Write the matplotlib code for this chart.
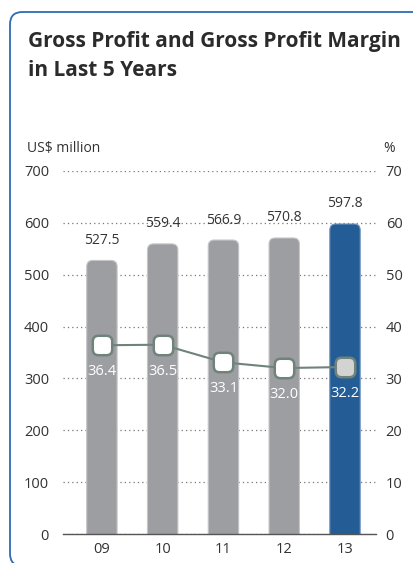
import matplotlib.pyplot as plt
import numpy as np
from matplotlib.patches import FancyBboxPatch, BoxStyle
from matplotlib.markers import MarkerStyle

plt.rcParams['font.family'] = ['Open Sans', 'DejaVu Sans']

years = ['09', '10', '11', '12', '13']
gross_profit = [527.5, 559.4, 566.9, 570.8, 597.8]
gp_margin = [36.4, 36.5, 33.1, 32.0, 32.2]

grey = '#9d9ea2'
blue = '#245d96'
line_c = '#6f837a'
txt = '#333333'

fig = plt.figure(figsize=(4.14, 5.63), dpi=100)

# blue frame, open on the right / bottom
frame = FancyBboxPatch((10 / 414, 1 - 12 / 563 - 0.984), 1.1, 0.984,
                       boxstyle='round,pad=0,rounding_size=0.03',
                       transform=fig.transFigure, fill=False,
                       edgecolor='#2d6bb3', linewidth=1.3, mutation_aspect=414 / 563)
fig.patches.append(frame)

fig.text(28 / 414, 1 - 47 / 563, 'Gross Profit and Gross Profit Margin',
         fontsize=15, fontweight='bold', color='#2b2b2b', ha='left', va='baseline')
fig.text(28 / 414, 1 - 76 / 563, 'in Last 5 Years',
         fontsize=15, fontweight='bold', color='#2b2b2b', ha='left', va='baseline')

ax = fig.add_axes([63 / 414, 1 - 534 / 563, 313 / 414, 363 / 563])
x = np.arange(len(years))
ax.set_xlim(-0.64, 4.51)
ax.set_ylim(0, 700)

# bars with rounded tops (bottom corners hidden under the axis)
px_x = 313 / 5.15
px_y = 363 / 700
for i, v in enumerate(gross_profit):
    c = blue if i == len(years) - 1 else grey
    ec = '#6f93bf' if i == len(years) - 1 else '#c4c5c8'
    bar = FancyBboxPatch((x[i] - 0.25, -30), 0.5, v + 30,
                         boxstyle='round,pad=0,rounding_size=0.1',
                         mutation_aspect=px_x / px_y,
                         facecolor=c, edgecolor=ec, linewidth=0.8, zorder=2)
    ax.add_patch(bar)
    ax.annotate(f'{v:.1f}', (x[i], v), xytext=(0, 9), textcoords='offset points',
                ha='center', va='bottom', fontsize=10, color=txt)

ax.set_yticks(range(0, 701, 100))
ax.set_xticks(x)
ax.set_xticklabels(years)
ax.yaxis.grid(True, linestyle=(0, (1, 2.5)), color='#777777', linewidth=0.9)
ax.set_axisbelow(True)
for s in ['top', 'right', 'left']:
    ax.spines[s].set_visible(False)
ax.spines['bottom'].set_color('#555555')
ax.spines['bottom'].set_linewidth(1)
ax.tick_params(axis='y', length=0, pad=10, labelsize=10.5, labelcolor=txt)
ax.tick_params(axis='x', length=0, pad=6, labelsize=10.5, labelcolor=txt)

ax2 = ax.twinx()
ax2.set_ylim(0, 70)
ax2.set_yticks(range(0, 71, 10))
for s in ax2.spines.values():
    s.set_visible(False)
ax2.tick_params(axis='y', length=0, pad=7, labelsize=10.5, labelcolor=txt)

# rounded square marker
rsq = BoxStyle.Round(pad=0, rounding_size=0.3)(-0.5, -0.5, 1, 1, 1)
mk = MarkerStyle(rsq)
ax2.plot(x, gp_margin, color=line_c, linewidth=1.5, zorder=3)
faces = ['white'] * (len(years) - 1) + ['#d3d3d3']
for i, v in enumerate(gp_margin):
    ax2.plot(x[i], v, marker=mk, markersize=14, markerfacecolor=faces[i],
             markeredgecolor=line_c, markeredgewidth=1.8, zorder=4)
    ax2.annotate(f'{v:.1f}', (x[i], v), xytext=(0, -19), textcoords='offset points',
                 ha='center', va='center', fontsize=10.5, color='white', zorder=5)

fig.text(27 / 414, 1 - 152 / 563, 'US$ million', fontsize=10, color=txt, va='baseline')
fig.text(383 / 414, 1 - 152 / 563, '%', fontsize=10, color=txt, va='baseline')

fig.savefig('out.png', dpi=100)
